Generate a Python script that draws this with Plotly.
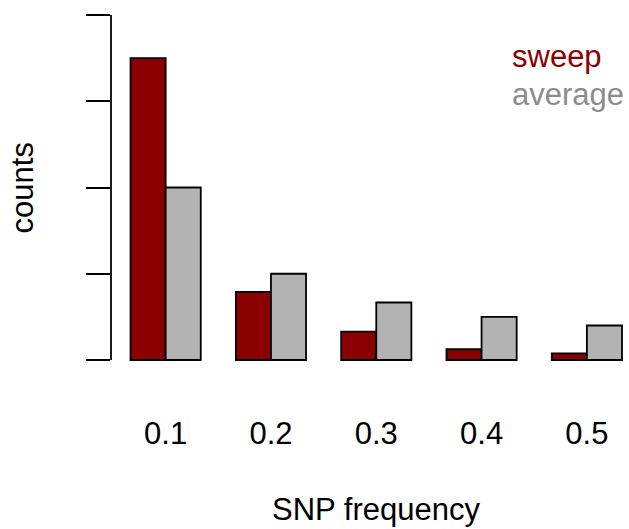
import plotly.graph_objects as go

# SNP frequency classes and counts for the two spectra
freq_labels = ["0.1", "0.2", "0.3", "0.4", "0.5"]
sweep_counts = [3.5, 0.79, 0.33, 0.125, 0.078]
average_counts = [2.0, 1.0, 0.667, 0.5, 0.4]
series_names = ["sweep", "average"]
y_ticks = [0, 1, 2, 3, 4]

sweep_color = "#8B0000"
average_color = "#B3B3B3"
average_text_color = "#8C8C8C"
font_family = "Liberation Sans, Arial, Helvetica, sans-serif"
fsize = 31

fig = go.Figure()
fig.add_trace(go.Bar(
    x=freq_labels, y=sweep_counts, name=series_names[0],
    marker=dict(color=sweep_color, line=dict(color="black", width=1.8)),
))
fig.add_trace(go.Bar(
    x=freq_labels, y=average_counts, name=series_names[1],
    marker=dict(color=average_color, line=dict(color="black", width=1.8)),
))

fig.update_layout(
    width=629, height=529,
    margin=dict(l=111, r=0, t=13, b=167),
    paper_bgcolor="white", plot_bgcolor="white",
    barmode="group", bargap=1/3, bargroupgap=0,
    showlegend=False,
    font=dict(family=font_family, size=fsize, color="black"),
    xaxis=dict(
        type="category", range=[-0.519, 4.40],
        showline=False, showgrid=False, zeroline=False, ticks="",
        tickfont=dict(size=fsize), ticklabelstandoff=50,
    ),
    yaxis=dict(
        range=[-0.023, 4.023], tickvals=y_ticks, showticklabels=False,
        ticks="outside", ticklen=24, tickwidth=1.8, tickcolor="black",
        showline=False, showgrid=False, zeroline=False,
    ),
)

# left axis line spanning the tick range
fig.add_shape(type="line", xref="paper", yref="y", x0=0, x1=0,
              y0=min(y_ticks), y1=max(y_ticks),
              line=dict(color="black", width=1.8), layer="above")

# axis titles
fig.add_annotation(text="SNP frequency", xref="paper", yref="paper",
                   x=0.512, y=-0.424, yanchor="middle", showarrow=False,
                   font=dict(size=fsize))
fig.add_annotation(text="counts", xref="paper", yref="paper",
                   x=-0.17, y=0.5, textangle=-90, showarrow=False,
                   xanchor="center", yanchor="middle", font=dict(size=fsize))

# legend as coloured text
for i, (name, col) in enumerate(zip(series_names, [sweep_color, average_text_color])):
    fig.add_annotation(text=name, xref="paper", yref="paper",
                       x=0.77, y=0.876 - i * 0.109, xanchor="left",
                       yanchor="middle", showarrow=False,
                       font=dict(size=fsize, color=col))

fig.write_html("out.html")
